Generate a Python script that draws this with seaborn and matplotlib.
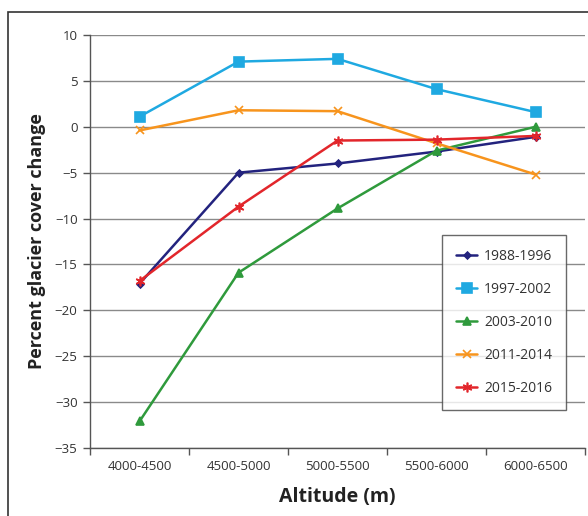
import matplotlib
matplotlib.use("Agg")
import matplotlib.pyplot as plt
import seaborn as sns
import pandas as pd
from matplotlib.patches import Rectangle
from matplotlib.ticker import FixedLocator

altitudes = ["4000-4500", "4500-5000", "5000-5500", "5500-6000", "6000-6500"]
periods = ["1988-1996", "1997-2002", "2003-2010", "2011-2014", "2015-2016"]
v_1988_1996 = [-17.1, -5.0, -4.0, -2.7, -1.1]
v_1997_2002 = [1.1, 7.1, 7.4, 4.1, 1.6]
v_2003_2010 = [-32.1, -15.9, -8.9, -2.6, 0.0]
v_2011_2014 = [-0.4, 1.8, 1.7, -1.8, -5.2]
v_2015_2016 = [-16.8, -8.7, -1.5, -1.4, -1.0]
values = [v_1988_1996, v_1997_2002, v_2003_2010, v_2011_2014, v_2015_2016]

colors = ["#23237e", "#1fa9e1", "#2f9a3c", "#f7941d", "#e2262b"]
markers = ["D", "s", "^", "x", (6, 2, 0)]
msizes = [3.5, 7, 6, 5.5, 7]

sns.set_theme(style="white")
plt.rcParams["font.family"] = ["Open Sans", "DejaVu Sans"]

fig = plt.figure(figsize=(5.88, 5.16), dpi=100)
ax = fig.add_axes([90 / 588, 1 - 448 / 516, 495 / 588, 413 / 516])

for p, vals, c, m, ms in zip(periods, values, colors, markers, msizes):
    df = pd.DataFrame({"Altitude": altitudes, "Change": vals})
    sns.lineplot(data=df, x="Altitude", y="Change", ax=ax, color=c, marker=m,
                 markersize=ms, markeredgecolor=c, markerfacecolor=c,
                 markeredgewidth=1.2, linewidth=1.8, label=p, sort=False)

ax.set_xlim(-0.5, 4.5)
ax.set_ylim(-35, 10)
ax.set_yticks(range(-35, 11, 5))
ax.set_xticks(range(5))
ax.set_xticklabels(altitudes)
ax.xaxis.set_minor_locator(FixedLocator([i - 0.5 for i in range(6)]))
ax.tick_params(axis="x", which="major", length=0, pad=9, labelsize=9.5, labelcolor="#333333")
ax.tick_params(axis="x", which="minor", length=5, width=1, color="#555555", direction="out", bottom=True)
ax.tick_params(axis="y", which="major", length=5, width=1, color="#555555", direction="out", left=True,
               labelsize=9.5, labelcolor="#333333", pad=4)
ax.grid(axis="y", color="#8a8a8a", linewidth=1)
ax.set_axisbelow(True)
for s in ["top", "right"]:
    ax.spines[s].set_visible(False)
for s in ["left", "bottom"]:
    ax.spines[s].set_color("#555555")
    ax.spines[s].set_linewidth(1)

ax.set_xlabel("Altitude (m)", fontsize=14, fontweight="bold", color="#222222", labelpad=10)
ax.set_ylabel("Percent glacier cover change", fontsize=13, fontweight="bold", color="#222222", labelpad=6)

leg = ax.legend(loc="upper right", bbox_to_anchor=(0.962, 0.516), frameon=True, fancybox=False,
                edgecolor="#444444", fontsize=10, labelspacing=1.3, borderpad=1.0,
                handlelength=1.5, handletextpad=0.5, borderaxespad=0)
leg.get_frame().set_linewidth(1)
for t in leg.get_texts():
    t.set_color("#333333")

fig.patches.append(Rectangle((8 / 588, -0.05), 1.1, 1 - 12 / 516 + 0.05, transform=fig.transFigure,
                             fill=False, edgecolor="#333333", linewidth=1.2, clip_on=False))

fig.savefig("out.png", dpi=100)
